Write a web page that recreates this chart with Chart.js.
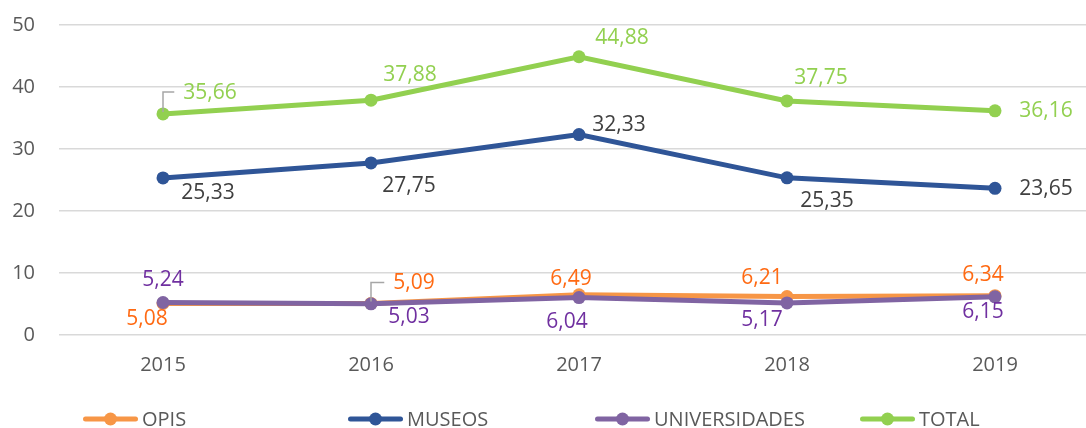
<!DOCTYPE html>
<html>
<head>
<meta charset="utf-8">
<script src="https://cdn.jsdelivr.net/npm/chart.js@4/dist/chart.umd.min.js"></script>
<style>
  html, body { margin: 0; padding: 0; background: #fff; overflow: hidden; width: 1086px; height: 428px; }
  #wrap { position: relative; width: 1110px; height: 428px; }
</style>
</head>
<body>
<div id="wrap"><canvas id="chart"></canvas></div>
<script>
const years = ["2015", "2016", "2017", "2018", "2019"];
const opis = [5.08, 5.09, 6.49, 6.21, 6.34];
const museos = [25.33, 27.75, 32.33, 25.35, 23.65];
const universidades = [5.24, 5.03, 6.04, 5.17, 6.15];
const total = [35.66, 37.88, 44.88, 37.75, 36.16];

const FONT = '"Open Sans", sans-serif';
const AXIS_GREY = "#595959";

// label colour and placement of each value label relative to its point: [dx, dy, leader?]
const labelStyle = {
  OPIS: { color: "#FF6A13", pos: [[-16, 16], [43, -20, true], [-8, -16], [-25, -18], [-12, -21]] },
  MUSEOS: { color: "#404040", pos: [[45, 15], [38, 23], [40, -10], [40, 23], [51, 1]] },
  UNIVERSIDADES: { color: "#7030A0", pos: [[0, -22], [38, 13], [-12, 24], [-25, 17], [-12, 15]] },
  TOTAL: { color: "#92D050", pos: [[47, -21, true], [39, -25], [43, -19], [34, -23], [51, 0]] },
};

const legendSlots = [83, 348, 595, 860]; // left edge of each legend marker

function series(label, data, color, order) {
  return {
    label,
    data,
    borderColor: color,
    backgroundColor: color,
    pointBackgroundColor: color,
    pointBorderWidth: 0,
    pointRadius: 6.5,
    pointHoverRadius: 6.5,
    borderWidth: 5,
    tension: 0,
    fill: false,
    order,
  };
}

const valueLabels = {
  id: "valueLabels",
  afterDatasetsDraw(chart) {
    const ctx = chart.ctx;
    ctx.save();
    ctx.font = "21px " + FONT;
    ctx.textAlign = "center";
    ctx.textBaseline = "middle";
    chart.data.datasets.forEach((ds, i) => {
      const st = labelStyle[ds.label];
      chart.getDatasetMeta(i).data.forEach((pt, j) => {
        const [dx, dy, leader] = st.pos[j];
        const txt = ds.data[j].toFixed(2).replace(".", ",");
        const lx = pt.x + dx;
        const ly = pt.y + dy;
        if (leader) {
          const w = ctx.measureText(txt).width;
          ctx.strokeStyle = "#A6A6A6";
          ctx.lineWidth = 1.5;
          ctx.beginPath();
          ctx.moveTo(pt.x, pt.y - 2);
          ctx.lineTo(pt.x, ly - 1);
          ctx.lineTo(lx - w / 2 - 9, ly - 1);
          ctx.stroke();
        }
        ctx.fillStyle = st.color;
        ctx.fillText(txt, lx, ly);
      });
    });
    ctx.restore();
  },
};

const fixedLegend = {
  id: "fixedLegend",
  afterDraw(chart) {
    const ctx = chart.ctx;
    const y = 419;
    ctx.save();
    ctx.font = "20px " + FONT;
    ctx.textAlign = "left";
    ctx.textBaseline = "middle";
    // legend follows the series order, not the draw order
    ["OPIS", "MUSEOS", "UNIVERSIDADES", "TOTAL"].forEach((name, k) => {
      const ds = chart.data.datasets.find((d) => d.label === name);
      const x = legendSlots[k];
      ctx.strokeStyle = ds.borderColor;
      ctx.lineWidth = 5;
      ctx.lineCap = "round";
      ctx.beginPath();
      ctx.moveTo(x + 2.5, y);
      ctx.lineTo(x + 52.5, y);
      ctx.stroke();
      ctx.fillStyle = ds.borderColor;
      ctx.beginPath();
      ctx.arc(x + 27.5, y, 6.5, 0, Math.PI * 2);
      ctx.fill();
      ctx.fillStyle = AXIS_GREY;
      ctx.fillText(name, x + 59, y + 1);
    });
    ctx.restore();
  },
};

new Chart(document.getElementById("chart"), {
  type: "line",
  data: {
    labels: years,
    datasets: [
      series("OPIS", opis, "#F79646", 2),
      series("MUSEOS", museos, "#2F5597", 3),
      series("UNIVERSIDADES", universidades, "#8064A2", 1),
      series("TOTAL", total, "#92D050", 0),
    ],
  },
  options: {
    responsive: true,
    maintainAspectRatio: false,
    animation: false,
    layout: { padding: { top: 25, right: 11, bottom: 51, left: 0 } },
    plugins: {
      legend: { display: false },
      tooltip: { enabled: false },
    },
    scales: {
      x: {
        offset: true,
        grid: { display: false, drawTicks: false, offset: true },
        border: { display: false },
        ticks: { color: AXIS_GREY, font: { family: FONT, size: 20 }, padding: 18 },
        afterFit(s) { s.height = 42; s.paddingLeft = 0; s.paddingRight = 0; },
      },
      y: {
        min: 0,
        max: 50,
        grid: { color: "#D9D9D9", lineWidth: 1.5, drawTicks: false },
        border: { display: false },
        ticks: { stepSize: 10, color: AXIS_GREY, font: { family: FONT, size: 20 }, padding: 24 },
        afterFit(s) { s.width = 59; s.paddingTop = 0; s.paddingBottom = 0; },
      },
    },
  },
  plugins: [valueLabels, fixedLegend],
});
</script>
</body>
</html>
